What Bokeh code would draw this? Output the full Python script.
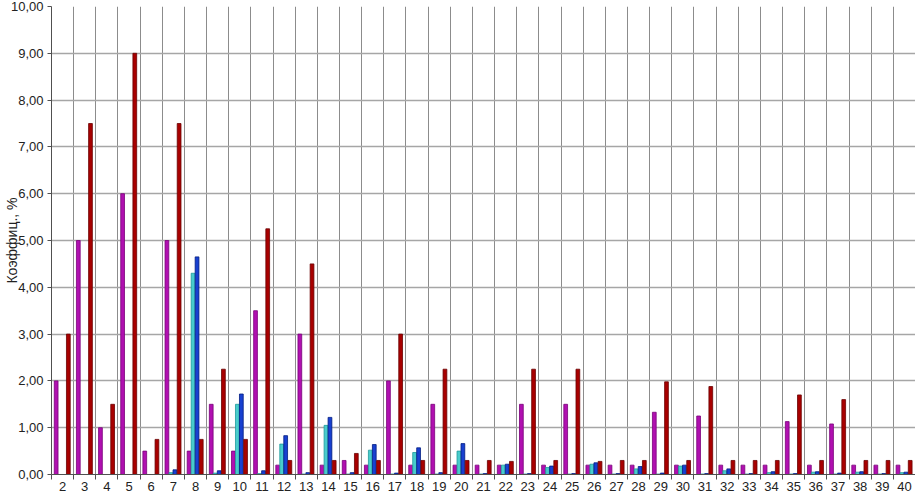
from bokeh.plotting import figure
from bokeh.models import Range1d, FixedTicker, Grid, ColumnDataSource
from bokeh.transform import dodge
from bokeh.embed import file_html
from bokeh.resources import INLINE

categories = list(range(2, 41))
magenta = [2.00, 5.00, 1.00, 6.00, 0.50, 5.00, 0.50, 1.50, 0.50, 3.50,
           0.20, 3.00, 0.20, 0.30, 0.20, 2.00, 0.20, 1.50, 0.20, 0.20,
           0.20, 1.50, 0.20, 1.50, 0.20, 0.20, 0.20, 1.33, 0.20, 1.25,
           0.20, 0.20, 0.20, 1.13, 0.20, 1.08, 0.20, 0.20, 0.20]
cyan = [0.00, 0.00, 0.00, 0.00, 0.00, 0.04, 4.30, 0.03, 1.50, 0.02,
        0.65, 0.01, 1.05, 0.01, 0.52, 0.01, 0.47, 0.01, 0.50, 0.01,
        0.20, 0.01, 0.15, 0.01, 0.22, 0.01, 0.12, 0.01, 0.18, 0.01,
        0.08, 0.01, 0.04, 0.01, 0.05, 0.01, 0.05, 0.01, 0.04]
blue = [0.00, 0.00, 0.00, 0.00, 0.00, 0.10, 4.65, 0.08, 1.72, 0.08,
        0.83, 0.04, 1.22, 0.04, 0.64, 0.03, 0.57, 0.04, 0.66, 0.02,
        0.22, 0.02, 0.18, 0.02, 0.25, 0.02, 0.17, 0.03, 0.20, 0.02,
        0.12, 0.02, 0.06, 0.02, 0.06, 0.03, 0.06, 0.02, 0.05]
darkred = [3.00, 7.50, 1.50, 9.00, 0.75, 7.50, 0.75, 2.25, 0.75, 5.25,
           0.30, 4.50, 0.30, 0.45, 0.30, 3.00, 0.30, 2.25, 0.30, 0.30,
           0.28, 2.25, 0.30, 2.25, 0.28, 0.30, 0.30, 1.98, 0.30, 1.88,
           0.30, 0.30, 0.30, 1.70, 0.30, 1.60, 0.30, 0.30, 0.30]
y_ticks = list(range(0, 11))
y_tick_labels = [f"{v},00" for v in y_ticks]
y_label = "Коэффиц., %"

src = ColumnDataSource(dict(x=categories, m=magenta, c=cyan, b=blue, r=darkred))

p = figure(width=915, height=495, output_backend="svg", toolbar_location=None,
           x_range=Range1d(1.5, 40.5), y_range=Range1d(0, 10),
           min_border_left=51, min_border_right=0, min_border_top=6,
           min_border_bottom=21, outline_line_color=None,
           background_fill_color="white", border_fill_color="white")

bw = 0.17
specs = [("m", -0.29, "#B010B0", "#7A007A"),
         ("c", -0.11, "#48CCCC", "#1E9A9A"),
         ("b", 0.07, "#1840D0", "#001C80"),
         ("r", 0.26, "#A80000", "#6A0000")]
for col, off, fc, lc in specs:
    p.vbar(x=dodge("x", off), top=col, width=bw, bottom=0, source=src,
           fill_color=fc, line_color=lc, line_width=0.8)

boundaries = [c + 0.5 for c in [1] + categories]

# grids
p.xgrid.visible = False
p.ygrid.visible = False
vg = Grid(dimension=0, ticker=FixedTicker(ticks=boundaries),
          grid_line_color="#8C8C8C", grid_line_width=1)
hg = Grid(dimension=1, ticker=FixedTicker(ticks=y_ticks),
          grid_line_color="#A6A6A6", grid_line_width=1.5)
p.add_layout(vg)
p.add_layout(hg)
vg.level = "underlay"
hg.level = "underlay"

# x axis
xa = p.xaxis[0]
xa.ticker = FixedTicker(ticks=categories, minor_ticks=boundaries)
xa.major_tick_out = 0
xa.major_tick_in = 0
xa.minor_tick_out = 5
xa.minor_tick_in = 0
xa.minor_tick_line_color = "#505050"
xa.axis_line_color = "#505050"
xa.major_label_text_font = "Liberation Sans"
xa.major_label_text_font_size = "13px"
xa.major_label_text_color = "#222222"
xa.major_label_standoff = 2

# y axis
ya = p.yaxis[0]
ya.ticker = FixedTicker(ticks=y_ticks)
ya.major_label_overrides = {v: s for v, s in zip(y_ticks, y_tick_labels)}
ya.minor_tick_line_color = None
ya.major_tick_out = 4
ya.major_tick_in = 0
ya.major_tick_line_color = "#505050"
ya.axis_line_color = "#505050"
ya.major_label_text_font = "Liberation Sans"
ya.major_label_text_font_size = "13px"
ya.major_label_text_color = "#222222"
ya.major_label_standoff = 4
ya.axis_label = y_label
ya.axis_label_text_font = "Liberation Sans"
ya.axis_label_text_font_size = "14px"
ya.axis_label_text_font_style = "normal"
ya.axis_label_text_color = "#222222"
ya.axis_label_standoff = -12

open("out.html", "w").write(file_html(p, INLINE))
